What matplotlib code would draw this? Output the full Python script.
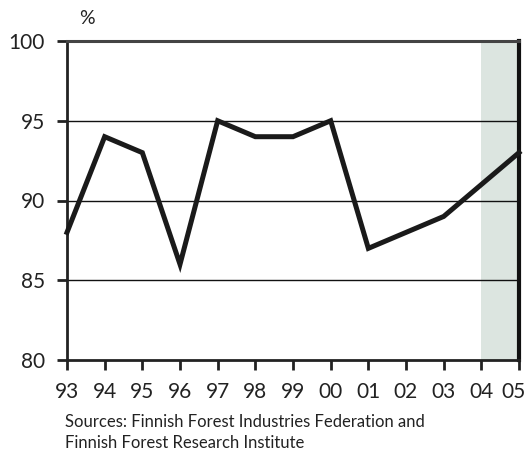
import matplotlib
matplotlib.use("Agg")
import matplotlib.pyplot as plt
import matplotlib.transforms as mtransforms

years = ["93", "94", "95", "96", "97", "98", "99", "00", "01", "02", "03", "04", "05"]
values = [88, 94, 93, 86, 95, 94, 94, 95, 87, 88, 89, 91, 93]
yticks = [80, 85, 90, 95, 100]
forecast_start = "04"

plt.rcParams['font.family'] = ['Lato', 'DejaVu Sans']

fig = plt.figure(figsize=(5.28, 4.5), dpi=100)
ax = fig.add_axes([67/528, 1-360/450, (519-67)/528, (360-41)/450])

x = list(range(len(years)))
i0 = years.index(forecast_start)
ax.axvspan(i0, len(years)-1, color='#dce5e0', lw=0, zorder=0)

for y in yticks[1:-1]:
    ax.axhline(y, color='#111111', lw=1.0, zorder=1)

ax.plot(x, values, color='#1a1a1a', lw=3.6, solid_joinstyle='miter', zorder=3, clip_on=False)

ax.set_xlim(0, len(years)-1)
ax.set_ylim(80, 100)
ax.set_xticks(x)
ax.set_xticklabels(years)
ax.set_yticks(yticks)
ax.tick_params(axis='both', direction='out', length=7, width=2, color='#222222',
               labelsize=15, labelcolor='#222222')
ax.tick_params(axis='x', pad=9)
ax.tick_params(axis='y', pad=9)
for s in ['left', 'bottom']:
    ax.spines[s].set_linewidth(2)
    ax.spines[s].set_color('#222222')
ax.spines['top'].set_linewidth(2.2)
ax.spines['top'].set_color('#444444')
ax.spines['right'].set_linewidth(3)
ax.spines['right'].set_color('#111111')

# nudge the last tick label left so it stays inside the figure, as in the reference
last = ax.get_xticklabels()[-1]
last.set_transform(last.get_transform() + mtransforms.ScaledTranslation(-6/100, 0, fig.dpi_scale_trans))

fig.text(87/528, 1-18/450, "%", fontsize=14, ha='center', va='center', color='#222222')
fig.text(65/528, 1-422/450, "Sources: Finnish Forest Industries Federation and",
         fontsize=12, ha='left', va='center', color='#222222')
fig.text(65/528, 1-443/450, "Finnish Forest Research Institute",
         fontsize=12, ha='left', va='center', color='#222222')

fig.savefig("out.png", dpi=100)
